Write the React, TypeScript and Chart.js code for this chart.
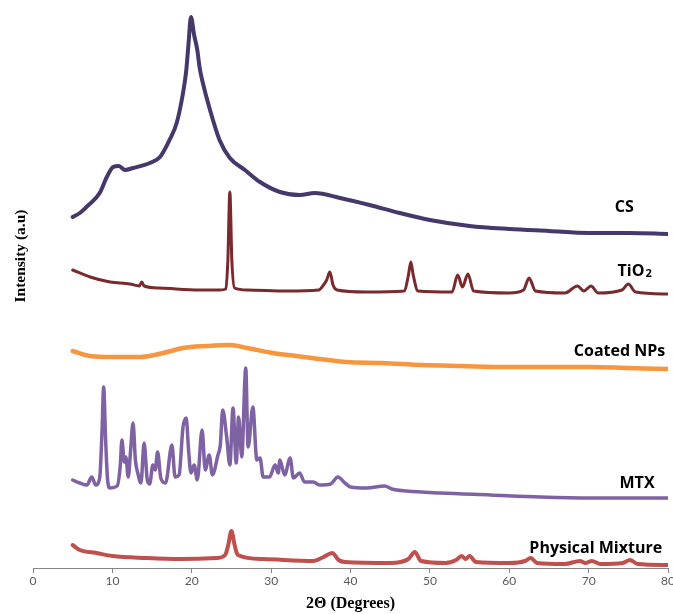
import React, { useEffect, useRef } from "react";
import { Chart, registerables } from "chart.js";

Chart.register(...registerables);

type Pt = [number, number];

// 2θ (degrees) vs intensity (a.u., curves stacked with offsets)
const csData: Pt[] = [
  [5.0, 351], [5.9, 355], [7.0, 363], [8.4, 375], [9.3, 391], [10.1, 401], [10.8, 402],
  [11.6, 398], [12.6, 400], [14.7, 405], [16.0, 411], [17.2, 428], [18.1, 445], [18.9, 475],
  [19.3, 497], [19.6, 525], [19.9, 551], [20.3, 533], [20.7, 518], [21.0, 500], [21.4, 485],
  [22.3, 458], [23.5, 428], [24.8, 410], [26.7, 398], [28.6, 386], [31.1, 376], [33.6, 373],
  [35.5, 375], [38.7, 370], [42.4, 363], [46.2, 355], [50.0, 348], [55.0, 342], [60.0, 339],
  [65.0, 337], [70.0, 335], [75.2, 335], [80.0, 334],
];

const tio2Data: Pt[] = [
  [5.0, 298], [7.2, 291], [9.7, 286], [12.2, 284], [13.4, 282], [13.7, 286], [14.0, 282],
  [16.0, 280], [21.0, 278], [23.5, 278], [24.3, 279], [24.55, 308], [24.8, 376], [25.05, 308],
  [25.4, 280], [27.0, 278], [32.0, 277], [36.0, 278], [36.6, 283], [37.0, 288], [37.4, 296],
  [37.8, 283], [38.3, 278], [42.0, 276], [46.8, 277], [47.3, 293], [47.6, 306], [47.9, 293],
  [48.5, 277], [52.8, 276], [53.5, 293], [54.1, 281], [54.8, 294], [55.5, 277], [60.0, 275],
  [61.8, 278], [62.5, 290], [63.3, 277], [67.0, 275], [68.6, 282], [69.4, 277], [70.3, 282],
  [71.2, 275], [74.2, 278], [75.0, 284], [75.9, 276], [80.0, 274],
];

const coatedData: Pt[] = [
  [5.0, 217], [7.2, 212], [10.0, 211], [13.5, 211], [16.4, 215], [18.9, 220], [21.9, 222],
  [24.8, 223], [27.0, 220], [30.2, 215], [33.2, 212], [36.1, 209], [39.5, 206], [44.0, 205],
  [49.0, 203], [54.0, 202], [59.7, 201], [70.2, 201], [75.0, 200], [80.0, 199],
];

const mtxData: Pt[] = [
  [5.0, 88], [5.9, 85], [6.8, 83], [7.4, 91], [7.9, 83], [8.4, 90], [8.7, 138], [8.9, 181],
  [9.15, 128], [9.4, 88], [9.7, 80], [10.6, 82], [11.0, 103], [11.2, 128], [11.5, 106],
  [11.7, 111], [12.0, 91], [12.3, 118], [12.6, 145], [12.9, 108], [13.2, 95], [13.6, 85],
  [14.0, 125], [14.4, 88], [14.7, 84], [15.1, 103], [15.4, 98], [15.7, 116], [16.1, 90],
  [16.7, 85], [17.5, 123], [17.9, 91], [18.4, 93], [18.9, 141], [19.3, 150], [19.6, 118],
  [19.9, 95], [20.3, 103], [20.7, 88], [21.3, 138], [21.7, 98], [22.2, 113], [22.6, 93],
  [23.3, 113], [23.6, 123], [23.9, 158], [24.4, 131], [24.8, 103], [25.2, 160], [25.6, 105],
  [25.9, 151], [26.3, 111], [26.8, 200], [27.1, 121], [27.7, 161], [28.2, 108], [28.6, 110],
  [29.0, 91], [29.8, 91], [30.5, 103], [30.9, 95], [31.1, 108], [31.7, 93], [32.4, 110],
  [32.8, 90], [33.6, 95], [34.2, 86], [35.3, 86], [36.1, 83], [37.5, 84], [38.4, 91],
  [39.3, 85], [40.0, 81], [42.0, 80], [44.3, 82], [45.2, 79], [47.1, 77], [51.3, 75],
  [57.6, 73], [63.9, 71], [70.2, 70], [80.0, 70],
];

const mixtureData: Pt[] = [
  [5.0, 23], [5.9, 18], [8.0, 15], [10.0, 12], [14.3, 10], [18.5, 9], [23.2, 10], [24.2, 13],
  [24.6, 23], [25.0, 37], [25.4, 23], [25.8, 13], [29.0, 9], [35.3, 7], [36.6, 11], [37.7, 15],
  [38.5, 8], [39.3, 6], [45.0, 5], [47.3, 9], [48.1, 16], [48.9, 7], [52.0, 5], [53.3, 8],
  [54.0, 12], [54.5, 9], [55.0, 12], [55.8, 6], [60.0, 5], [62.0, 7], [62.7, 10], [63.5, 5],
  [67.0, 4], [68.9, 7], [69.6, 5], [70.4, 7], [71.5, 4], [74.3, 5], [75.2, 8], [76.2, 4],
  [80.0, 3],
];

const seriesNames = ["CS", "TiO2", "Coated NPs", "MTX", "Physical Mixture"];
const seriesColors = ["#46386a", "#782a2c", "#f7963f", "#7f62a3", "#c0504d"];
const seriesWidths = [4, 3, 4.5, 3.5, 4];
const seriesData = [csData, tio2Data, coatedData, mtxData, mixtureData];

// curve labels: [text, subscript, x (deg), y (a.u.)]
const curveLabels: [string, string, number, number][] = [
  ["CS", "", 74.5, 361],
  ["TiO", "2", 75.8, 297],
  ["Coated NPs", "", 73.9, 217],
  ["MTX", "", 76.1, 85],
  ["Physical Mixture", "", 70.9, 20],
];

const xMin = 0;
const xMax = 80;
const xStep = 10;
const yMin = 0;
const yMax = 568;
const yTitleAt = 312;
const xTitle = "2\u0398 (Degrees)";
const yTitle = "Intensity (a.u)";

const labelPlugin = {
  id: "curveLabels",
  afterDraw(chart: any) {
    const { ctx, scales } = chart;
    const x = scales.x;
    const y = scales.y;
    ctx.save();
    ctx.fillStyle = "#000000";
    ctx.textBaseline = "middle";
    for (const [text, sub, lx, ly] of curveLabels) {
      const px = x.getPixelForValue(lx);
      const py = y.getPixelForValue(ly);
      ctx.font = 'bold 16px "Open Sans"';
      const w1 = ctx.measureText(text).width;
      let w2 = 0;
      if (sub) {
        ctx.font = 'bold 11px "Open Sans"';
        w2 = ctx.measureText(sub).width + 1;
      }
      const left = px - (w1 + w2) / 2;
      ctx.font = 'bold 16px "Open Sans"';
      ctx.textAlign = "left";
      ctx.fillText(text, left, py);
      if (sub) {
        ctx.font = 'bold 11px "Open Sans"';
        ctx.fillText(sub, left + w1 + 1, py + 3);
      }
    }
    // y-axis title
    ctx.translate(21, y.getPixelForValue(yTitleAt));
    ctx.rotate(-Math.PI / 2);
    ctx.textAlign = "center";
    ctx.font = 'bold 15.5px "Liberation Serif"';
    ctx.fillText(yTitle, 0, 0);
    ctx.restore();
  },
};

export default function App() {
  const ref = useRef<HTMLCanvasElement | null>(null);
  useEffect(() => {
    if (!ref.current) return;
    const chart = new Chart(ref.current, {
      type: "line",
      data: {
        datasets: seriesData.map((d, i) => ({
          label: seriesNames[i],
          data: d.map(([a, b]) => ({ x: a, y: b })),
          borderColor: seriesColors[i],
          backgroundColor: seriesColors[i],
          borderWidth: seriesWidths[i],
          pointRadius: 0,
          fill: false,
          cubicInterpolationMode: "monotone" as const,
          borderJoinStyle: "round" as const,
          borderCapStyle: "round" as const,
        })),
      },
      options: {
        animation: false,
        responsive: false,
        devicePixelRatio: 1,
        layout: { padding: { left: 33, right: 5, top: 0, bottom: 0 } },
        plugins: {
          legend: { display: false },
          tooltip: { enabled: false },
        },
        scales: {
          x: {
            type: "linear",
            min: xMin,
            max: xMax,
            ticks: {
              stepSize: xStep,
              color: "#595959",
              font: { family: "Lato", size: 12 },
              padding: 1,
            },
            grid: {
              drawOnChartArea: false,
              drawTicks: true,
              tickLength: 5,
              color: "#868686",
            },
            border: { display: true, color: "#868686", width: 1 },
            title: {
              display: true,
              text: xTitle,
              color: "#000000",
              font: { family: "Liberation Serif", size: 16, weight: "bold" },
              padding: { top: 0, bottom: 1 },
            },
            afterFit: (scale: any) => {
              scale.height = 46;
              scale.paddingRight = 0;
              scale.paddingLeft = 0;
            },
          },
          y: {
            type: "linear",
            display: false,
            min: yMin,
            max: yMax,
          },
        },
      },
      plugins: [labelPlugin],
    });
    return () => chart.destroy();
  }, []);
  return (
    <canvas
      ref={ref}
      width={673}
      height={614}
      style={{ position: "absolute", left: 0, top: 0, width: 673, height: 614 }}
    />
  );
}
